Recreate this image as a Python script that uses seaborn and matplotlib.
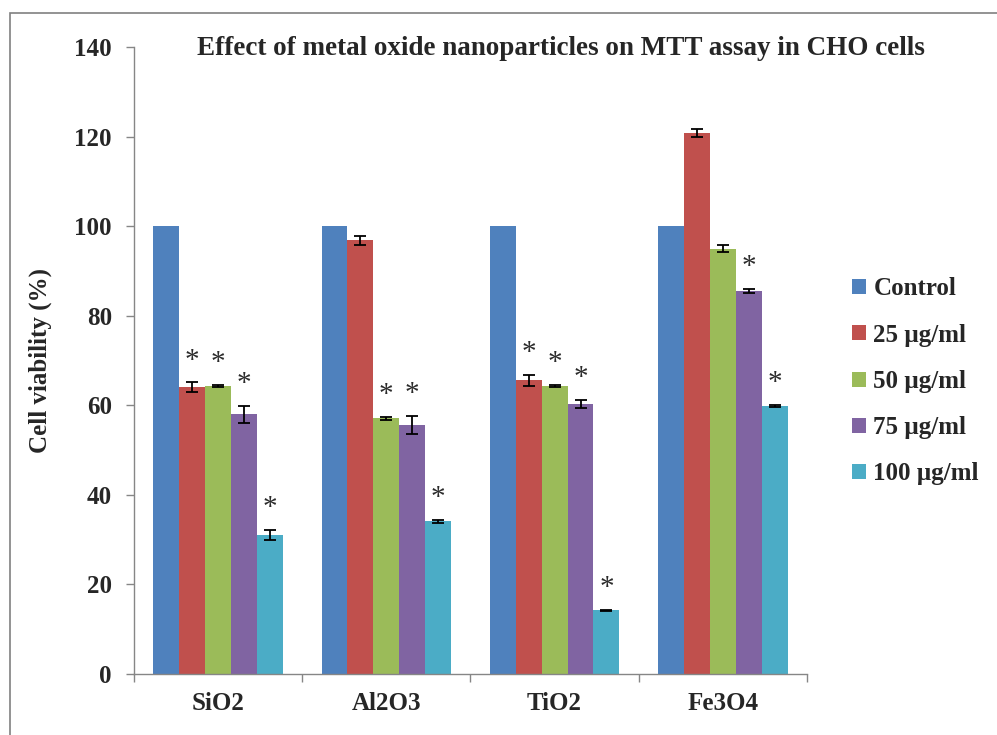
import matplotlib
matplotlib.use("Agg")
import matplotlib.pyplot as plt
from matplotlib.patches import Rectangle
import seaborn as sns
import pandas as pd

# Data
groups = ["SiO2", "Al2O3", "TiO2", "Fe3O4"]
series = ["Control", "25 µg/ml", "50 µg/ml", "75 µg/ml", "100 µg/ml"]
control = [100, 100, 100, 100]
c25 = [64.0, 96.9, 65.6, 120.8]
c50 = [64.3, 57.1, 64.3, 95.0]
c75 = [58.0, 55.6, 60.2, 85.5]
c100 = [31.0, 34.1, 14.2, 59.8]
err25 = [1.1, 1.0, 1.2, 0.9]
err50 = [0.3, 0.3, 0.3, 0.8]
err75 = [1.9, 2.1, 0.9, 0.4]
err100 = [1.1, 0.3, 0.2, 0.2]
# significance stars per series (one flag per group)
star25 = [1, 0, 1, 0]
star50 = [1, 1, 1, 0]
star75 = [1, 1, 1, 1]
star100 = [1, 1, 1, 1]

colors = ["#4F81BD", "#C0504D", "#9BBB59", "#8064A2", "#4BACC6"]

values = [control, c25, c50, c75, c100]
errors = [[0] * 4, err25, err50, err75, err100]
stars = [[0] * 4, star25, star50, star75, star100]

df = pd.DataFrame({
    "group": [g for s in series for g in groups],
    "series": [s for s in series for g in groups],
    "value": [v for vals in values for v in vals],
})

sns.set_style("white")
plt.rcParams["font.family"] = ["Liberation Serif", "DejaVu Serif"]
plt.rcParams["font.weight"] = "bold"

fig = plt.figure(figsize=(9.97, 7.35), dpi=100)
ax = fig.add_axes([0.1344, 0.083, 0.675, 0.853])

sns.barplot(data=df, x="group", y="value", hue="series", order=groups,
            hue_order=series, palette=colors, errorbar=None, width=0.77,
            gap=0, saturation=1, linewidth=0, ax=ax)

# error bars and asterisks
bar_containers = list(ax.containers)
for i, cont in enumerate(bar_containers):
    for j, bar in enumerate(cont):
        xc = bar.get_x() + bar.get_width() / 2
        top = values[i][j]
        e = errors[i][j]
        if e > 0:
            ax.errorbar(xc, top, yerr=e, fmt="none", ecolor="black",
                        elinewidth=1.3, capsize=4, capthick=1.3)
        if stars[i][j]:
            ax.text(xc, top + e + 2.0, "*", ha="center", va="bottom",
                    fontsize=21, color="#2b2b2b", fontweight="normal")

ax.set_ylim(0, 140)
ax.set_xlim(-0.5, 3.5)
ax.set_yticks(range(0, 141, 20))
ax.set_xlabel("")
ax.set_ylabel("Cell viability (%)", fontsize=18, fontweight="bold", labelpad=16)
ax.tick_params(axis="y", which="major", direction="out", length=6, width=1,
               color="#868686", labelsize=18, pad=10, left=True)
ax.tick_params(axis="x", which="major", length=0, labelsize=18, pad=13)
ax.set_xticks([-0.5, 0.5, 1.5, 2.5, 3.5], minor=True)
ax.tick_params(axis="x", which="minor", direction="out", length=6, width=1,
               color="#868686", bottom=True)
for lab in ax.get_xticklabels() + ax.get_yticklabels():
    lab.set_fontweight("bold")

for side in ["top", "right"]:
    ax.spines[side].set_visible(False)
for side in ["left", "bottom"]:
    ax.spines[side].set_color("#868686")
    ax.spines[side].set_linewidth(1)

fig.text(0.563, 0.934, "Effect of metal oxide nanoparticles on MTT assay in CHO cells",
         ha="center", va="center", fontsize=19.5, fontweight="bold")

handles, labels = ax.get_legend_handles_labels()
ax.legend(handles, labels, loc="center left", bbox_to_anchor=(0.832, 0.481),
          bbox_transform=fig.transFigure, frameon=False,
          prop={"weight": "bold", "size": 18}, handlelength=0.55, handleheight=0.55,
          handletextpad=0.3, labelspacing=0.93)

# outer border of the picture
fig.patches.append(Rectangle((0.01, -0.1), 1.2, 0.982 + 0.1, fill=False,
                             edgecolor="#808080", linewidth=1.2,
                             transform=fig.transFigure, figure=fig))

fig.savefig("out.png", dpi=100)
